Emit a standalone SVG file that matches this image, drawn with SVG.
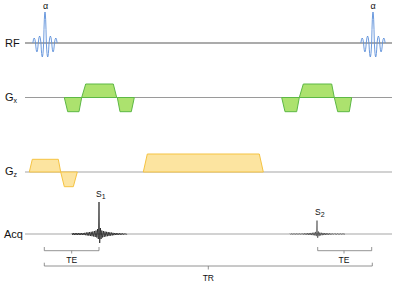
<svg xmlns="http://www.w3.org/2000/svg" xmlns:xlink="http://www.w3.org/1999/xlink" width="400" height="284" viewBox="0 0 400 284">
<style>
text{font-family:"Liberation Sans","Open Sans",sans-serif;fill:#111}
.lbl{font-size:11px}
.alpha{font-size:9px}
.sub{font-size:7px}
.small{font-size:8.5px}
.base{stroke-width:1.2;fill:none}
.rf{fill:none;stroke:#5B8FD9;stroke-width:0.9;stroke-linejoin:round}
.gx{fill:#ACE26E;stroke:#5DB845;stroke-width:1}
.gz{fill:#FCE4A0;stroke:#F5C342;stroke-width:1}
.echo{fill:none;stroke:#111;stroke-width:0.7;stroke-linejoin:round}
.br{fill:none;stroke:#777;stroke-width:0.8}
</style>
<defs>
<path id="sinc" class="rf" d="M-12.15 0 Q-10.8 -10 -9.45 0 Q-8.1 18 -6.75 0 Q-5.4 -14 -4.05 0 Q-2.7 28 -1.35 0 Q0 -62 1.35 0 Q2.7 28 4.05 0 Q5.4 -14 6.75 0 Q8.1 18 9.45 0 Q10.8 -10 12.15 0"/>
<path id="echo" d="M-27 -1 L-26.2 1 L-25.4 -1 L-24.6 1 L-23.8 -1 L-23 1 L-22.2 -1 L-21.4 1 L-20.6 -1 L-19.8 1 L-19 -1 L-18.2 1 L-17.4 -1 L-16.6 1 L-15.8 -1 L-15 1 L-14.2 -1.2 L-13.4 1.2 L-12.6 -1.5 L-11.8 1.5 L-11 -1.7 L-10.2 1.7 L-9.4 -2 L-8.6 2 L-7.8 -2.2 L-7 2.2 L-6.2 -2.5 L-5.4 2.5 L-4.6 -3 L-3.8 3 L-3 -3.5 L-2.2 3.5 L-1.4 -5 L-0.7 5 L0 -32 L0.7 9 L1.4 -6 L2.1 5 L2.8 -3.5 L3.6 3.5 L4.4 -3 L5.2 3 L6 -2.5 L6.8 2.5 L7.6 -2.2 L8.4 2.2 L9.2 -2 L10 2 L10.8 -1.7 L11.6 1.7 L12.4 -1.5 L13.2 1.5 L14 -1.2 L14.8 1.2 L15.6 -1 L16.4 1 L17.2 -1 L18 1 L18.8 -0.8 L19.6 0.8 L20.4 -0.8 L21.2 0.8 L22 -0.7 L22.8 0.7 L23.6 -0.6 L24.4 0.6 L25.2 -0.5 L26 0.5 L26.8 -0.4 L27.6 0.4 L28 0"/>
</defs>
<g id="baselines">
<line class="base" x1="25" y1="43" x2="392" y2="43" stroke="#595959"/>
<line class="base" x1="25" y1="97.5" x2="392" y2="97.5" stroke="#9a9a9a"/>
<line class="base" x1="25" y1="172" x2="392" y2="172" stroke="#a6a6a6"/>
<line class="base" x1="25" y1="234" x2="392" y2="234" stroke="#a6a6a6"/>
</g>
<g id="labels">
<text class="lbl" x="5" y="47">RF</text>
<text class="lbl" x="5" y="101">G<tspan class="sub" dy="2">x</tspan></text>
<text class="lbl" x="5" y="175">G<tspan class="sub" dy="2">z</tspan></text>
<text class="lbl" x="4" y="238">Acq</text>
</g>
<g id="rf1">
<use xlink:href="#sinc" transform="translate(45 43)"/>
<text class="alpha" x="45.5" y="9" text-anchor="middle">α</text>
</g>
<g id="rf2">
<use xlink:href="#sinc" transform="translate(373 43)"/>
<text class="alpha" x="373" y="9" text-anchor="middle">α</text>
</g>
<g id="gx1">
<polygon class="gx" points="64.3,97.5 81.7,97.5 79,111.7 67.7,111.7"/>
<polygon class="gx" points="81.7,97.5 85.7,84 113.3,84 116.7,97.5"/>
<polygon class="gx" points="117.3,97.5 134.3,97.5 131.3,111.7 120,111.7"/>
</g>
<g id="gx2">
<polygon class="gx" points="281.7,97.5 299.3,97.5 296.7,111.7 285,111.7"/>
<polygon class="gx" points="299.3,97.5 303.3,84 331.7,84 334.3,97.5"/>
<polygon class="gx" points="334.3,97.5 351.7,97.5 349.3,111.7 337.7,111.7"/>
</g>
<g id="gz1">
<polygon class="gz" points="29.3,172 32.3,159.3 58.3,159.3 60.7,172"/>
<polygon class="gz" points="60.7,172 77.3,172 73.3,186.7 64.3,186.7"/>
</g>
<g id="gz2">
<polygon class="gz" points="143.3,172 147.3,154 259.3,154 263.3,172"/>
</g>
<g id="s1">
<use xlink:href="#echo" class="echo" transform="translate(99 234)"/>
<text class="small" x="96" y="197">S<tspan class="sub" font-size="6" dy="2">1</tspan></text>
</g>
<g id="s2">
<use xlink:href="#echo" class="echo" transform="translate(317 234) scale(1 0.42)" style="vector-effect:non-scaling-stroke"/>
<text class="small" x="315" y="215">S<tspan class="sub" font-size="6" dy="2">2</tspan></text>
</g>
<g id="connectors">
<path class="br" d="M44.3 247 V250.7 H99 V247 M71.7 250.7 V253.5"/>
<path class="br" d="M317.7 247 V250.7 H371.7 V247 M344 250.7 V253.5"/>
<path class="br" d="M44.3 262.7 V266 H372.3 V262.7 M208.3 266 V269.5"/>
</g>
<g id="intervals">
<text class="small" x="71.7" y="263" text-anchor="middle">TE</text>
<text class="small" x="344" y="263" text-anchor="middle">TE</text>
<text class="small" x="208.3" y="281" text-anchor="middle">TR</text>
</g>
</svg>
